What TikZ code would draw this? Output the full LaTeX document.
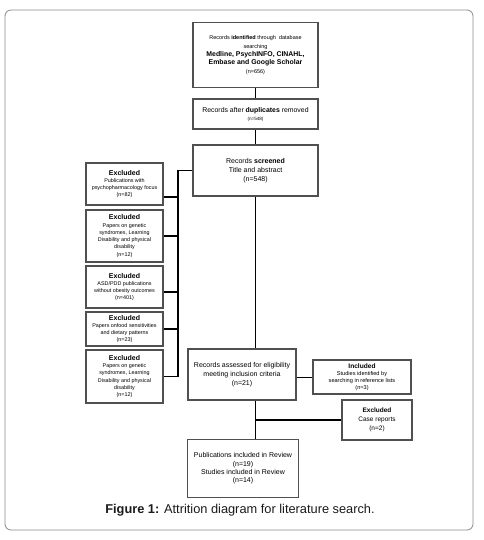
\documentclass[tikz,border=0pt]{standalone}
\usepackage{fontspec}
\setmainfont{Liberation Sans}
\definecolor{boxgray}{HTML}{505050}
\definecolor{framegray}{HTML}{8A8A8A}
\definecolor{captext}{HTML}{1A1A1A}
\newcommand{\fsA}{\fontsize{5.4}{7.3}\selectfont}
\newcommand{\fsB}{\fontsize{6.9}{8.3}\selectfont}
\newcommand{\fsC}{\fontsize{7}{9}\selectfont}
\begin{document}
\begin{tikzpicture}[x=1pt,y=-1pt,
  box/.style={draw=boxgray, line width=1.4pt, fill=white, inner sep=1pt, align=center, text=black},
  conn/.style={draw=black, line width=1.2pt},
  exbox/.style={box, minimum width=77, font=\fsA},
]
\useasboundingbox (0,0) rectangle (483,540);
\draw[rounded corners=6, framegray, line width=0.8pt] (5,10) rectangle (473,530);

% main column
\node[box, minimum width=125, minimum height=65, font=\fontsize{5.5}{8.3}\selectfont] (top) at (255.5,55)
  {Records \textbf{identified} through\ \ database\\ searching\\
   {\fsB\bfseries Medline, PsychINFO, CINAHL,}\\
   {\fsB\bfseries Embase and Google Scholar}\\ (n=656)};
\node[box, minimum width=125, minimum height=30, font=\fontsize{4.6}{8}\selectfont] (dup) at (255.5,114)
  {{\fsB Records after \textbf{duplicates} removed}\\ (n=548)};
\node[box, minimum width=125, minimum height=51, font=\fsC] (scr) at (255.5,170.5)
  {Records \textbf{screened}\\ Title and abstract\\ (n=548)};

% excluded column
\node[exbox, minimum height=42] (e1) at (124.5,184)
  {{\fsC\bfseries Excluded}\\ Publications with\\ psychopharmacology focus\\ (n=82)};
\node[exbox, minimum height=52] (e2) at (124.5,236)
  {{\fsC\bfseries Excluded}\\ Papers on genetic\\ syndromes, Learning\\ Disability and physical\\ disability\\ (n=12)};
\node[exbox, minimum height=42] (e3) at (124.5,287)
  {{\fsC\bfseries Excluded}\\ ASD/PDD publications\\ without obesity outcomes\\ (n=401)};
\node[exbox, minimum height=34] (e4) at (124.5,329)
  {{\fsC\bfseries Excluded}\\ Papers onfood sensitivities\\ and dietary patterns\\ (n=23)};
\node[exbox, minimum height=53] (e5) at (124.5,376.5)
  {{\fsC\bfseries Excluded}\\ Papers on genetic\\ syndromes, Learning\\ Disability and physical\\ disability\\ (n=12)};

% lower part
\node[box, minimum width=108, minimum height=51, font=\fsC] (ass) at (242,374.5)
  {Records assessed for eligibility\\ meeting inclusion criteria\\ (n=21)};
\node[box, minimum width=98, minimum height=34, font=\fontsize{5.6}{7}\selectfont] (inc) at (362,377)
  {{\fontsize{6.6}{7}\selectfont\bfseries Included}\\ Studies identified by\\ searching in reference lists\\ (n=3)};
\node[box, minimum width=70, minimum height=40, font=\fontsize{6.5}{9}\selectfont] (cas) at (377,420)
  {\textbf{Excluded}\\ Case reports\\ (n=2)};
\node[box, minimum width=111, minimum height=58, font=\fontsize{7}{8.3}\selectfont] (fin) at (243,468.5)
  {Publications included in Review\\ (n=19)\\ Studies included in Review\\ (n=14)};

% connectors
\coordinate (spT) at (178,170.5);
\draw[conn] (top) -- (dup);
\draw[conn] (dup) -- (scr);
\draw[conn] (scr.west) -- (spT) -- (spT |- e5.east);
\draw[conn] ([yshift=-13pt]e1.east) -- ([yshift=-13pt]e1.east -| spT);
\draw[conn] (e2.east) -- (e2.east -| spT);
\draw[conn] ([yshift=-5pt]e3.east) -- ([yshift=-5pt]e3.east -| spT);
\draw[conn] (e4.east) -- (e4.east -| spT);
\draw[conn] (e5.east) -- (e5.east -| spT);
\draw[conn] (scr.south) -- (scr.south |- ass.north);
\draw[conn] ([yshift=-3pt]ass.east) -- ([yshift=-3pt]ass.east -| inc.west);
\coordinate (brA) at (scr.south |- ass.south);
\draw[conn] (brA) -- (brA |- fin.north);
\coordinate (brB) at (brA |- cas.west);
\draw[conn] (brB) -- (cas.west);

% caption
\node[text=captext, font=\fontsize{12.8}{15}\selectfont] (cap) at (240,510)
  {\textbf{Figure 1:} Attrition diagram for literature search.};
\end{tikzpicture}
\end{document}
